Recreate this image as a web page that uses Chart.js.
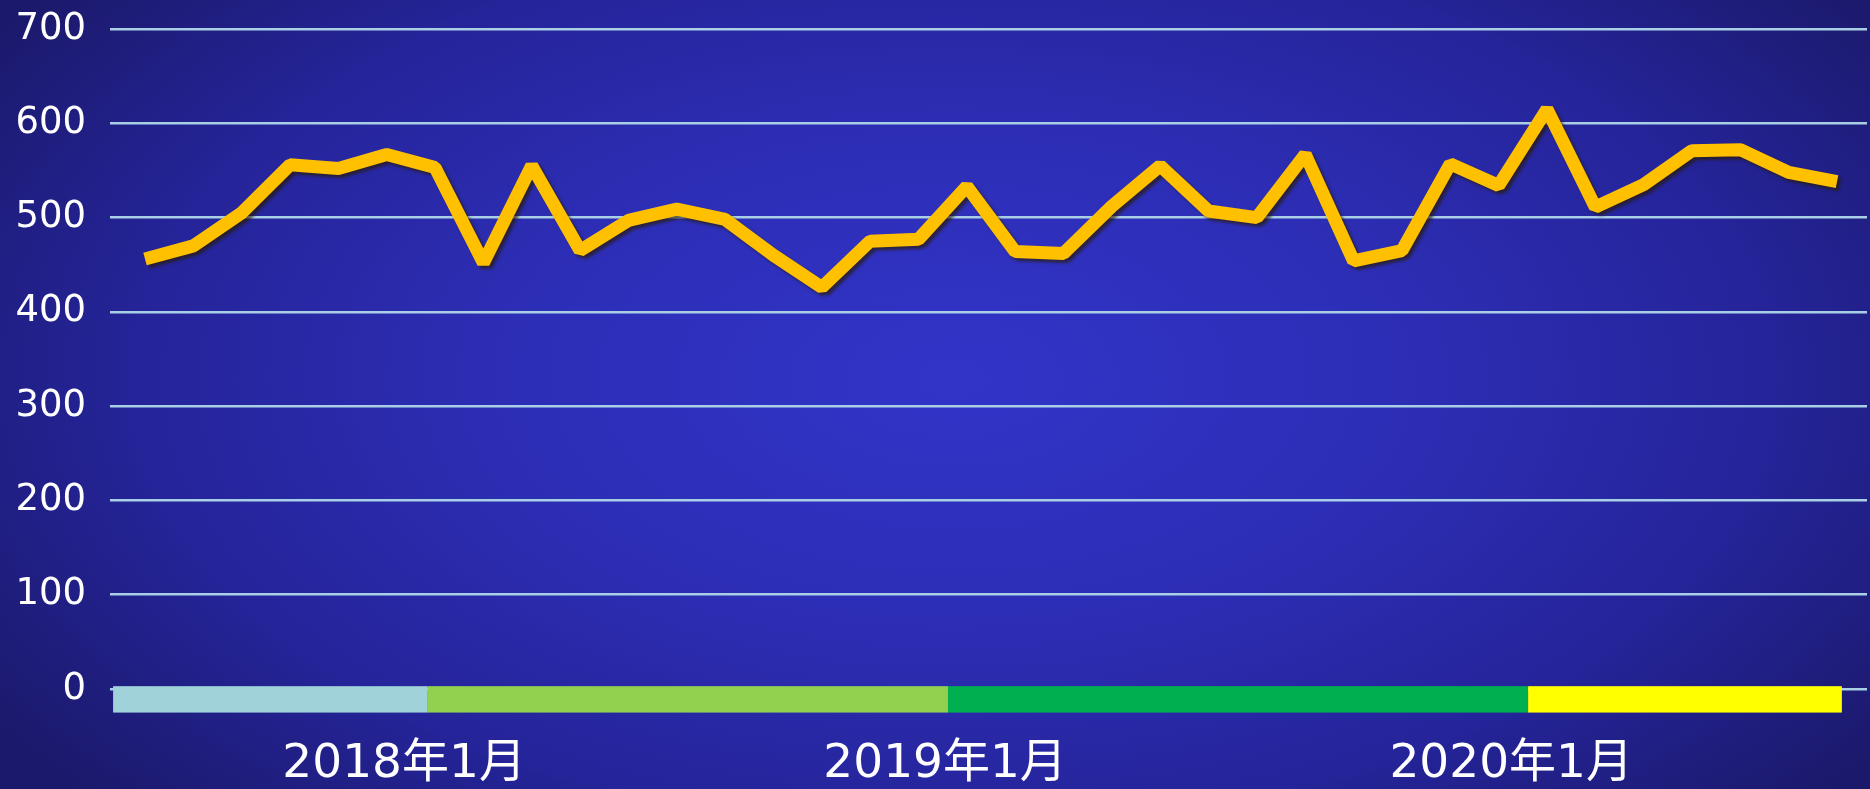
<!DOCTYPE html>
<html>
<head>
<meta charset="utf-8">
<title>月度走势</title>
<script src="https://cdn.jsdelivr.net/npm/chart.js@4.4.1/dist/chart.umd.min.js"></script>
<style>
    html, body {
        margin: 0;
        padding: 0;
        overflow: hidden;
    }
    #wrap {
        width: 1870px;
        height: 789px;
        position: relative;
        background: radial-gradient(ellipse 62% 80% at 51% 48%, #3134c8 0%, #2d2eb6 38%, #25249a 70%, #1b196a 100%);
    }
</style>
</head>
<body>
<div id="wrap"><canvas id="chart"></canvas></div>
<script>
// Monthly values, 36 months
const monthValues = [
    456, 470, 505, 556, 552, 567, 553, 452, 555, 465, 497, 509,
    498, 460, 426, 475, 477, 533, 464, 462, 512, 555, 507, 500,
    567, 454, 465, 557, 534, 615, 511, 535, 571, 572, 548, 538
];

// Bottom band: segment edges (in month index units) and colours
const bandEdges = [-0.66, 5.85, 16.61, 28.61, 35.1];
const bandColors = ['#9fd3d9', '#92d050', '#00b050', '#ffff00'];
const bandTop = 3;
const bandBottom = -25;

// Year labels along the bottom and where they sit
const xLabels = ['2018年1月', '2019年1月', '2020年1月'];
const xLabelPos = [5.36, 16.55, 28.26];

const yTicks = [0, 100, 200, 300, 400, 500, 600, 700];

const points = monthValues.map((v, i) => ({ x: i, y: v }));

// Coloured period band under the zero line
const bandPlugin = {
    id: 'periodBand',
    beforeDatasetsDraw(chart) {
        const ctx = chart.ctx;
        const xs = chart.scales.x;
        const ys = chart.scales.y;
        const top = ys.getPixelForValue(bandTop);
        const bottom = ys.getPixelForValue(bandBottom);
        ctx.save();
        for (let i = 0; i < bandColors.length; i++) {
            const x0 = xs.getPixelForValue(bandEdges[i]);
            const x1 = xs.getPixelForValue(bandEdges[i + 1]);
            ctx.fillStyle = bandColors[i];
            ctx.fillRect(x0, top, x1 - x0, bottom - top);
        }
        ctx.restore();
    }
};

// Dark drop shadow under the thick line
const shadowPlugin = {
    id: 'lineShadow',
    beforeDatasetDraw(chart) {
        const ctx = chart.ctx;
        ctx.save();
        ctx.shadowColor = 'rgba(40, 28, 0, 0.65)';
        ctx.shadowBlur = 3;
        ctx.shadowOffsetX = 3;
        ctx.shadowOffsetY = 3;
    },
    afterDatasetDraw(chart) {
        chart.ctx.restore();
    }
};

new Chart(document.getElementById('chart'), {
    type: 'line',
    data: {
        datasets: [{
            data: points,
            borderColor: '#ffc000',
            borderWidth: 13,
            borderJoinStyle: 'bevel',
            borderCapStyle: 'butt',
            pointRadius: 0,
            tension: 0,
            fill: false
        }]
    },
    options: {
        responsive: true,
        maintainAspectRatio: false,
        animation: false,
        layout: {
            padding: { top: 29, right: 3, bottom: 0, left: 0 }
        },
        plugins: {
            legend: { display: false },
            tooltip: { enabled: false }
        },
        scales: {
            x: {
                type: 'linear',
                min: -0.724,
                max: 35.62,
                border: { display: false },
                grid: { display: false, drawTicks: false },
                afterBuildTicks: (scale) => {
                    scale.ticks = xLabelPos.map(v => ({ value: v }));
                },
                afterFit: (scale) => {
                    scale.height = 100;
                    scale.paddingLeft = 0;
                    scale.paddingRight = 0;
                },
                ticks: {
                    autoSkip: false,
                    maxRotation: 0,
                    padding: 48,
                    color: '#ffffff',
                    font: { family: "'DejaVu Sans', 'Noto Sans CJK SC', sans-serif", size: 47 },
                    callback: (value, index) => xLabels[index]
                }
            },
            y: {
                min: 0,
                max: 700,
                border: { display: false },
                grid: {
                    color: '#a9cfe6',
                    lineWidth: 2.5,
                    drawTicks: false
                },
                afterBuildTicks: (scale) => {
                    scale.ticks = yTicks.map(v => ({ value: v }));
                },
                afterFit: (scale) => {
                    scale.width = 110;
                    scale.paddingTop = 0;
                    scale.paddingBottom = 0;
                },
                ticks: {
                    padding: 24,
                    color: '#ffffff',
                    font: { family: "'DejaVu Sans', sans-serif", size: 37 }
                }
            }
        }
    },
    plugins: [bandPlugin, shadowPlugin]
});
</script>
</body>
</html>
